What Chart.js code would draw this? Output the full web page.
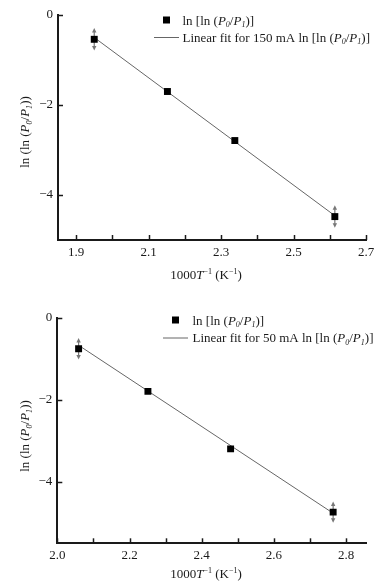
<!DOCTYPE html>
<html><head><meta charset="utf-8">
<script src="https://cdn.jsdelivr.net/npm/chart.js@4/dist/chart.umd.min.js"></script>
<style>
html,body{margin:0;padding:0;background:#fff;width:388px;height:588px;overflow:hidden;}
.wrap{position:absolute;left:0;width:388px;height:294px;}
</style></head><body>
<div class="wrap" style="top:0"><canvas id="c1" width="388" height="294"></canvas></div>
<div class="wrap" style="top:294px"><canvas id="c2" width="388" height="294"></canvas></div>
<script>
// ---------- DATA ----------
// Top panel: 150 mA
const x150 = [1.950, 2.152, 2.338, 2.614];
const y150 = [-0.54, -1.70, -2.79, -4.48];
const err150 = [0.25, 0, 0, 0.25];
const fitX150 = [1.955, 2.614];
const fitY150 = [-0.53, -4.46];
const xTicks150 = [1.9, 2.0, 2.1, 2.2, 2.3, 2.4, 2.5, 2.6, 2.7];
const xLabels150 = ['1.9', '', '2.1', '', '2.3', '', '2.5', '', '2.7'];

// Bottom panel: 50 mA
const x50 = [2.059, 2.251, 2.480, 2.764];
const y50 = [-0.76, -1.80, -3.20, -4.74];
const err50 = [0.26, 0, 0, 0.26];
const fitX50 = [2.063, 2.761];
const fitY50 = [-0.70, -4.75];
const xTicks50 = [2.0, 2.1, 2.2, 2.3, 2.4, 2.5, 2.6, 2.7, 2.8];
const xLabels50 = ['2.0', '', '2.2', '', '2.4', '', '2.6', '', '2.8'];

const yTicks = [0, -2, -4];
const yLabels = ['0', '\u22122', '\u22124'];

const legendMarker = [{t:'ln [ln ('},{t:'P',i:1},{t:'0',i:1,sub:1},{t:'/'},{t:'P',i:1},{t:'1',i:1,sub:1},{t:')]'}];
const legendFit150 = [{t:'Linear fit for 150 mA ln [ln ('},{t:'P',i:1},{t:'0',i:1,sub:1},{t:'/'},{t:'P',i:1},{t:'1',i:1,sub:1},{t:')]'}];
const legendFit50 = [{t:'Linear fit for 50 mA ln [ln ('},{t:'P',i:1},{t:'0',i:1,sub:1},{t:'/'},{t:'P',i:1},{t:'1',i:1,sub:1},{t:')]'}];
const yTitle = [{t:'ln (ln ('},{t:'P',i:1},{t:'0',i:1,sub:1},{t:'/'},{t:'P',i:1},{t:'1',i:1,sub:1},{t:'))'}];
const xTitle = [{t:'1000'},{t:'T',i:1},{t:'\u22121',sup:1},{t:' (K'},{t:'\u22121',sup:1},{t:')'}];

// ---------- helpers ----------
const FAM = '"Liberation Serif", "Times New Roman", serif';
const INK = '#1a1a1a';
function segFont(s, size){
  const sz = (s.sub||s.sup) ? size*0.62 : size;
  return (s.i ? 'italic ' : '') + sz + 'px ' + FAM;
}
function richWidth(ctx, segs, size){
  let w = 0;
  for (const s of segs){ ctx.font = segFont(s,size); w += ctx.measureText(s.t).width; }
  return w;
}
function drawRich(ctx, x, y, segs, size, align){
  ctx.save();
  ctx.fillStyle = INK;
  ctx.textBaseline = 'alphabetic';
  ctx.textAlign = 'left';
  let cx = x;
  if (align === 'center') cx = x - richWidth(ctx, segs, size)/2;
  for (const s of segs){
    ctx.font = segFont(s,size);
    let dy = 0;
    if (s.sub) dy = size*0.22;
    if (s.sup) dy = -size*0.38;
    ctx.fillText(s.t, cx, y + dy);
    cx += ctx.measureText(s.t).width;
  }
  ctx.restore();
}

function makePlugin(cfg){
  return {
    id: 'deco',
    beforeDatasetsDraw(chart){
      const ctx = chart.ctx, xs = chart.scales.x, ys = chart.scales.y;
      ctx.save();
      ctx.strokeStyle = '#777'; ctx.fillStyle = '#777'; ctx.lineWidth = 1.2;
      cfg.xs.forEach((xv, k) => {
        const e = cfg.err[k]; if (!e) return;
        const px = xs.getPixelForValue(xv);
        const pTop = ys.getPixelForValue(cfg.ys[k] + e);
        const pBot = ys.getPixelForValue(cfg.ys[k] - e);
        ctx.beginPath(); ctx.moveTo(px, pTop + 3); ctx.lineTo(px, pBot - 3); ctx.stroke();
        ctx.beginPath(); ctx.moveTo(px, pTop); ctx.lineTo(px - 2.2, pTop + 4.5); ctx.lineTo(px + 2.2, pTop + 4.5); ctx.closePath(); ctx.fill();
        ctx.beginPath(); ctx.moveTo(px, pBot); ctx.lineTo(px - 2.2, pBot - 4.5); ctx.lineTo(px + 2.2, pBot - 4.5); ctx.closePath(); ctx.fill();
      });
      ctx.restore();
    },
    afterDraw(chart){
      const ctx = chart.ctx, xs = chart.scales.x, ys = chart.scales.y, a = chart.chartArea;
      ctx.save();
      ctx.strokeStyle = INK; ctx.lineWidth = 1.5;
      xs.ticks.forEach(t => {
        const px = Math.round(xs.getPixelForValue(t.value)) + 0.5;
        ctx.beginPath(); ctx.moveTo(px, a.bottom); ctx.lineTo(px, a.bottom - 5); ctx.stroke();
      });
      ys.ticks.forEach(t => {
        const py = Math.round(ys.getPixelForValue(t.value)) + 0.5;
        ctx.beginPath(); ctx.moveTo(a.left, py); ctx.lineTo(a.left + 5, py); ctx.stroke();
      });
      // legend
      const L = cfg.legend;
      ctx.fillStyle = '#000';
      ctx.fillRect(L.sqX - 3.5, L.sqY - 3.5, 7, 7);
      ctx.strokeStyle = '#666'; ctx.lineWidth = 1;
      ctx.beginPath(); ctx.moveTo(L.lnX1, L.lnY + 0.5); ctx.lineTo(L.lnX2, L.lnY + 0.5); ctx.stroke();
      drawRich(ctx, L.tx1, L.sqY + 4.5, legendMarker, 13);
      drawRich(ctx, L.tx2, L.lnY + 4.5, cfg.fitLegend, 13);
      // axis titles
      drawRich(ctx, cfg.xTitle.x, cfg.xTitle.y, xTitle, 13, 'center');
      ctx.save();
      ctx.translate(cfg.yTitle.x, cfg.yTitle.y);
      ctx.rotate(-Math.PI/2);
      drawRich(ctx, 0, 0, yTitle, 13, 'center');
      ctx.restore();
      ctx.restore();
    }
  };
}

function build(id, d){
  return new Chart(document.getElementById(id), {
    type: 'scatter',
    data: {
      datasets: [
        { label: 'fit', type: 'line', data: d.fitX.map((x,k)=>({x, y:d.fitY[k]})),
          borderColor: '#666', borderWidth: 1, pointRadius: 0, fill: false, tension: 0, order: 2 },
        { label: 'pts', data: d.xs.map((x,k)=>({x, y:d.ys[k]})),
          pointStyle: 'rect', pointRadius: 4.9, backgroundColor: '#000', borderColor: '#000', borderWidth: 0, order: 1 }
      ]
    },
    options: {
      responsive: false, animation: false, devicePixelRatio: 1,
      layout: { padding: { left: 0, top: d.padTop, right: d.padRight, bottom: 0 } },
      plugins: { legend: { display: false }, tooltip: { enabled: false } },
      scales: {
        x: {
          type: 'linear', min: d.xMin, max: d.xMax,
          afterFit: s => { s.height = d.xH; },
          afterBuildTicks: s => { s.ticks = d.xTicks.map(v => ({ value: v })); },
          ticks: { autoSkip: false, maxRotation: 0, padding: d.xPad, color: INK,
                   font: { family: FAM, size: 13 },
                   callback: (v, i) => d.xLabels[i] },
          grid: { display: false, drawTicks: false },
          border: { display: true, color: INK, width: 2 }
        },
        y: {
          type: 'linear', min: d.yMin, max: 0,
          afterFit: s => { s.width = d.yW; },
          afterBuildTicks: s => { s.ticks = yTicks.map(v => ({ value: v })); },
          ticks: { autoSkip: false, padding: 5, color: INK,
                   font: { family: FAM, size: 13 },
                   callback: (v, i) => yLabels[i] },
          grid: { display: false, drawTicks: false },
          border: { display: true, color: INK, width: 2 }
        }
      }
    },
    plugins: [makePlugin(d)]
  });
}

build('c1', {
  xs: x150, ys: y150, err: err150, fitX: fitX150, fitY: fitY150,
  xTicks: xTicks150, xLabels: xLabels150, xMin: 1.85, xMax: 2.7, yMin: -5,
  padTop: 15, padRight: 22, xH: 54, yW: 58, xPad: 5,
  fitLegend: legendFit150,
  legend: { sqX: 166.5, sqY: 20, lnX1: 154, lnX2: 179, lnY: 37, tx1: 182.5, tx2: 182.5 },
  xTitle: { x: 206, y: 279 }, yTitle: { x: 29, y: 132 }
});
build('c2', {
  xs: x50, ys: y50, err: err50, fitX: fitX50, fitY: fitY50,
  xTicks: xTicks50, xLabels: xLabels50, xMin: 2.0, xMax: 2.855, yMin: -5.5,
  padTop: 23.5, padRight: 22, xH: 44.7, yW: 57.3, xPad: 4,
  fitLegend: legendFit50,
  legend: { sqX: 175.5, sqY: 26, lnX1: 163, lnX2: 188, lnY: 43.5, tx1: 192.5, tx2: 192.5 },
  xTitle: { x: 206, y: 284 }, yTitle: { x: 29, y: 142 }
});
</script>
</body></html>
